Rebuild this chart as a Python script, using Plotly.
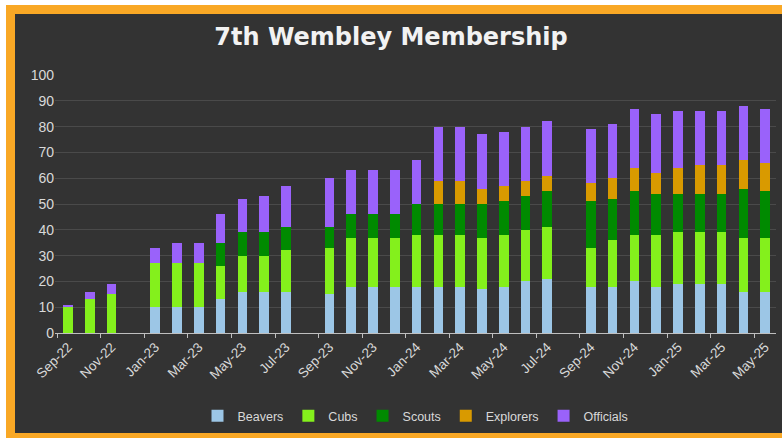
import plotly.graph_objects as go

months = ["Sep-22", "Oct-22", "Nov-22", "Dec-22", "Jan-23", "Feb-23", "Mar-23", "Apr-23",
          "May-23", "Jun-23", "Jul-23", "Aug-23", "Sep-23", "Oct-23", "Nov-23", "Dec-23",
          "Jan-24", "Feb-24", "Mar-24", "Apr-24", "May-24", "Jun-24", "Jul-24", "Aug-24",
          "Sep-24", "Oct-24", "Nov-24", "Dec-24", "Jan-25", "Feb-25", "Mar-25", "Apr-25",
          "May-25"]

beavers = [0, 0, 0, None, 10, 10, 10, 13, 16, 16, 16, None, 15, 18, 18, 18,
           18, 18, 18, 17, 18, 20, 21, None, 18, 18, 20, 18, 19, 19, 19, 16, 16]
cubs = [10, 13, 15, None, 17, 17, 17, 13, 14, 14, 16, None, 18, 19, 19, 19,
        20, 20, 20, 20, 20, 20, 20, None, 15, 18, 18, 20, 20, 20, 20, 21, 21]
scouts = [0, 0, 0, None, 0, 0, 0, 9, 9, 9, 9, None, 8, 9, 9, 9,
          12, 12, 12, 13, 13, 13, 14, None, 18, 16, 17, 16, 15, 15, 15, 19, 18]
explorers = [0, 0, 0, None, 0, 0, 0, 0, 0, 0, 0, None, 0, 0, 0, 0,
             0, 9, 9, 6, 6, 6, 6, None, 7, 8, 9, 8, 10, 11, 11, 11, 11]
officials = [1, 3, 4, None, 6, 8, 8, 11, 13, 14, 16, None, 19, 17, 17, 17,
             17, 21, 21, 21, 21, 21, 21, None, 21, 21, 23, 23, 22, 21, 21, 21, 21]

y_ticks = list(range(0, 101, 10))

series = [("Beavers", beavers, "#9cc6e6"),
          ("Cubs", cubs, "#84f01c"),
          ("Scouts", scouts, "#008a00"),
          ("Explorers", explorers, "#d99a00"),
          ("Officials", officials, "#9a62fa")]

fig = go.Figure()
for name, vals, col in series:
    fig.add_trace(go.Bar(x=months, y=vals, name=name, marker=dict(color=col, line=dict(width=0))))

W, H = 782, 438
L, R, T, B = 55, 776, 75, 333
def px(xp):
    return (xp - L) / (R - L)
def py(yp):
    return (B - yp) / (B - T)

shapes = [
    dict(type="rect", xref="paper", yref="paper", x0=px(6), x1=px(800), y0=py(5), y1=py(460),
         fillcolor="#f9a825", line=dict(width=0), layer="below"),
    dict(type="rect", xref="paper", yref="paper", x0=px(15), x1=px(800), y0=py(14), y1=py(433),
         fillcolor="#333333", line=dict(width=0), layer="below"),
]

fig.update_layout(
    width=W, height=H,
    margin=dict(l=L, r=W - R, t=T, b=H - B, autoexpand=False),
    paper_bgcolor="white",
    plot_bgcolor="rgba(0,0,0,0)",
    barmode="stack",
    bargap=0.56,
    shapes=shapes,
    font=dict(family="Liberation Sans, Arial, sans-serif", color="#d9d9d9", size=12),
    title=dict(text="<b>7th Wembley Membership</b>", x=0.5, xanchor="center",
               y=1 - 37 / H, yanchor="middle", yref="container",
               font=dict(family="DejaVu Sans, sans-serif", size=24, color="#f2f2f2")),
    legend=dict(orientation="h", x=0.5, xanchor="center", y=py(416), yanchor="middle",
                font=dict(size=12.5, color="#d9d9d9"), bgcolor="rgba(0,0,0,0)",
                itemwidth=30, traceorder="normal"),
    xaxis=dict(type="category", tickmode="linear", tick0=0, dtick=2, tickson="boundaries",
               tickangle=-45, ticks="outside", ticklen=4, tickcolor="#bfbfbf",
               showgrid=False, showline=True, linecolor="#bfbfbf", linewidth=1,
               tickfont=dict(size=13.5, color="#d9d9d9"), range=[-0.6, 32.5], automargin=False),
    yaxis=dict(range=[0, 100], tickvals=y_ticks, showgrid=True, gridcolor="#4a4a4a",
               gridwidth=1, zeroline=False, showline=False, automargin=False,
               tickfont=dict(size=14, color="#d9d9d9"), ticks=""),
)

fig.write_html("out.html", config={"displayModeBar": False},
               post_script="document.body.style.margin='0';")
